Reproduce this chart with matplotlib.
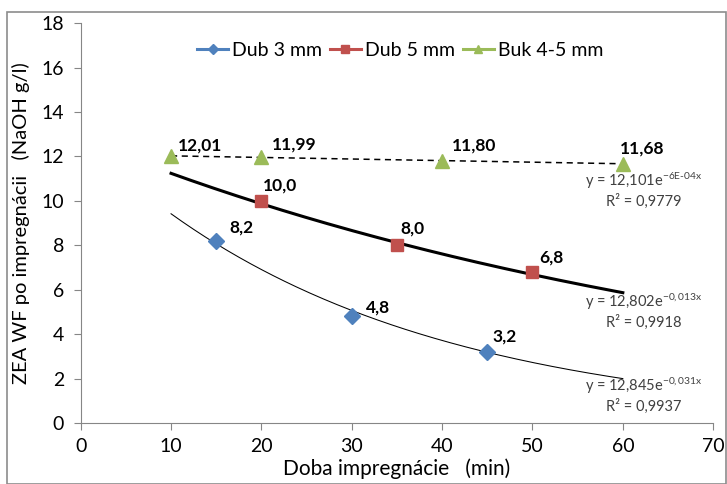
import numpy as np
import matplotlib
matplotlib.use("Agg")
import matplotlib.pyplot as plt
from matplotlib.patches import Rectangle

# data
x_dub3 = [15, 30, 45]
y_dub3 = [8.2, 4.8, 3.2]
lab_dub3 = ["8,2", "4,8", "3,2"]

x_dub5 = [20, 35, 50]
y_dub5 = [10.0, 8.0, 6.8]
lab_dub5 = ["10,0", "8,0", "6,8"]

x_buk = [10, 20, 40, 60]
y_buk = [12.01, 11.99, 11.80, 11.68]
lab_buk = ["12,01", "11,99", "11,80", "11,68"]

# exponential trendlines shown on the chart: y = a*exp(b*x)
fit_dub3 = (12.845, -0.031)
fit_dub5 = (12.802, -0.013)
fit_buk = (12.101, -6e-4)
eq_dub3 = ["y = 12,845e$^{-0,031x}$", "R² = 0,9937"]
eq_dub5 = ["y = 12,802e$^{-0,013x}$", "R² = 0,9918"]
eq_buk = ["y = 12,101e$^{-6E\\text{-}04x}$", "R² = 0,9779"]
fit_range = (10, 60)

BLUE = "#4F81BD"
RED = "#C0504D"
GREEN = "#9BBB59"

plt.rcParams['font.family'] = ['Lato', 'DejaVu Sans']
plt.rcParams['mathtext.fontset'] = 'custom'
plt.rcParams['mathtext.rm'] = 'Lato'
plt.rcParams['mathtext.it'] = 'Lato'
plt.rcParams['mathtext.default'] = 'regular'

fig = plt.figure(figsize=(7.27, 4.84), dpi=100)
ax = fig.add_axes([0.111, 0.126, 0.870, 0.826])

# outer chart border
fig.patches.append(Rectangle((7 / 727, 0), 719 / 727, 1 - 12 / 484,
                             transform=fig.transFigure, fill=False,
                             edgecolor="#8c8c8c", lw=1.2))

xf = np.linspace(fit_range[0], fit_range[1], 200)


def trend(fit):
    return fit[0] * np.exp(fit[1] * xf)


ax.plot(xf, trend(fit_dub3), color="black", lw=0.75, zorder=2)
ax.plot(xf, trend(fit_dub5), color="black", lw=2.2, zorder=2)
ax.plot(xf, trend(fit_buk), color="black", lw=1.1, ls=(0, (4, 3)), zorder=2)

ax.plot(x_dub3, y_dub3, ls="none", marker="D", ms=8.5, color=BLUE, zorder=3)
ax.plot(x_dub5, y_dub5, ls="none", marker="s", ms=9, color=RED, zorder=3)
ax.plot(x_buk, y_buk, ls="none", marker="^", ms=9.5, color=GREEN, zorder=3)

# point labels (pixel offsets of label left edge / centre from the point)
offs_dub3 = [(13, 13), (14, 9), (5, 15)]
offs_dub5 = [(1, 15), (3, 17), (7, 14)]
offs_buk = [(7, 11), (10, 12), (10, 15), (-3, 15)]
for xs, ys, labs, offs in [(x_dub3, y_dub3, lab_dub3, offs_dub3),
                           (x_dub5, y_dub5, lab_dub5, offs_dub5),
                           (x_buk, y_buk, lab_buk, offs_buk)]:
    for x, y, t, o in zip(xs, ys, labs, offs):
        ax.annotate(t, (x, y), xytext=o, textcoords="offset pixels",
                    fontsize=12.5, fontweight="bold", ha="left",
                    va="center")

# trendline equations (offset below the trendline end, in data units)
for eq, fit, dy in [(eq_buk, fit_buk, -0.77), (eq_dub5, fit_dub5, -0.42),
                    (eq_dub3, fit_dub3, -0.33)]:
    y_end = fit[0] * np.exp(fit[1] * fit_range[1])
    ax.text(62.3, y_end + dy, eq[0], fontsize=10.5, color="#404040",
            ha="center", va="center")
    ax.text(62.3, y_end + dy - 0.92, eq[1], fontsize=10.5, color="#404040",
            ha="center", va="center")

# legend with line through marker, like the original
handles = [plt.Line2D([], [], color=BLUE, marker="D", ms=5, lw=2.2),
           plt.Line2D([], [], color=RED, marker="s", ms=6, lw=2.2),
           plt.Line2D([], [], color=GREEN, marker="^", ms=6, lw=2.2)]
ax.legend(handles, ["Dub 3 mm", "Dub 5 mm", "Buk 4-5 mm"], loc="center",
          bbox_to_anchor=(0.505, 0.933), ncol=3, frameon=False, fontsize=14,
          handlelength=1.6, handletextpad=0.2, columnspacing=0.4)

ax.set_xlim(0, 70)
ax.set_ylim(0, 18)
ax.set_xticks(range(0, 71, 10))
ax.set_yticks(range(0, 19, 2))
ax.tick_params(labelsize=14, color="#868686", length=5, direction="out")
ax.tick_params(axis="y", pad=7)
ax.tick_params(axis="x", pad=6)
for s in ["top", "right"]:
    ax.spines[s].set_visible(False)
for s in ["left", "bottom"]:
    ax.spines[s].set_color("#868686")

ax.set_xlabel("Doba impregnácie   (min)", fontsize=15, labelpad=2)
ax.set_ylabel("ZEA WF po impregnácii   (NaOH g/l)", fontsize=14.5,
              labelpad=8)

fig.savefig("out.png", dpi=100)
